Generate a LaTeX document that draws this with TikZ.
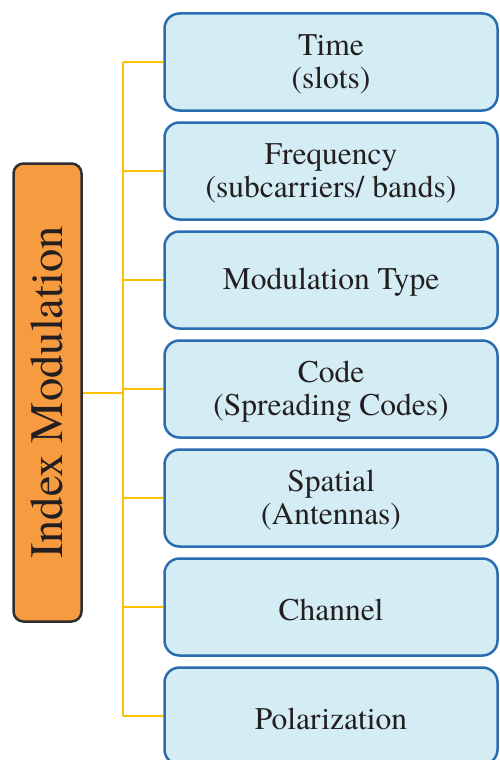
\documentclass[tikz,border=0pt]{standalone}
\usepackage{fontspec}
\setmainfont{TeX Gyre Termes}
\definecolor{orfill}{HTML}{F79B40}
\definecolor{orline}{HTML}{2E2E2E}
\definecolor{blfill}{HTML}{D4EDF5}
\definecolor{blline}{HTML}{2A6CB0}
\definecolor{yel}{HTML}{FFC000}
\definecolor{txt}{HTML}{231F20}
\tikzset{
  rootbox/.style={draw=orline, line width=2.5pt, fill=orfill, rounded corners=10pt,
    minimum width=68pt, minimum height=458pt, inner sep=0pt},
  leafbox/.style={draw=blline, line width=2.5pt, fill=blfill, rounded corners=15pt,
    minimum width=333pt, minimum height=97pt, inner sep=0pt},
  leaftext/.style={align=center, inner sep=0pt, text=txt,
    font=\fontsize{31.5pt}{33pt}\selectfont},
  link/.style={draw=yel, line width=2.5pt}
}
\begin{document}
\begin{tikzpicture}[x=1pt,y=-1pt]
\useasboundingbox (0,0) rectangle (500,760);
\node[rootbox] (root) at (47.5,392.5) {};
\node[rotate=90, text=txt, font=\fontsize{46.5pt}{50pt}\selectfont] (roottext) at ([xshift=-1pt]root.center) {Index Modulation};
\foreach \i/\t in {1/{Time\\(slots)},
                   2/{Frequency\\(subcarriers/ bands)},
                   3/{Modulation Type},
                   4/{Code\\(Spreading Codes)},
                   5/{Spatial\\(Antennas)},
                   6/{Channel},
                   7/{Polarization}} {
  \node[leafbox] (b\i) at (331,{62+109*(\i-1)}) {};
  \node[leaftext] (t\i) at ([yshift=-2.5pt]b\i.center) {\t};
}
\coordinate (top) at (123,62);
\coordinate (bot) at (123,716);
\coordinate (mid) at (123,393);
\draw[link] (root.east |- mid) -- (mid);
\draw[link] (top) -- (bot);
\foreach \i in {1,...,7} {
  \draw[link] (b\i.west -| top) -- (b\i.west);
}
\end{tikzpicture}
\end{document}
